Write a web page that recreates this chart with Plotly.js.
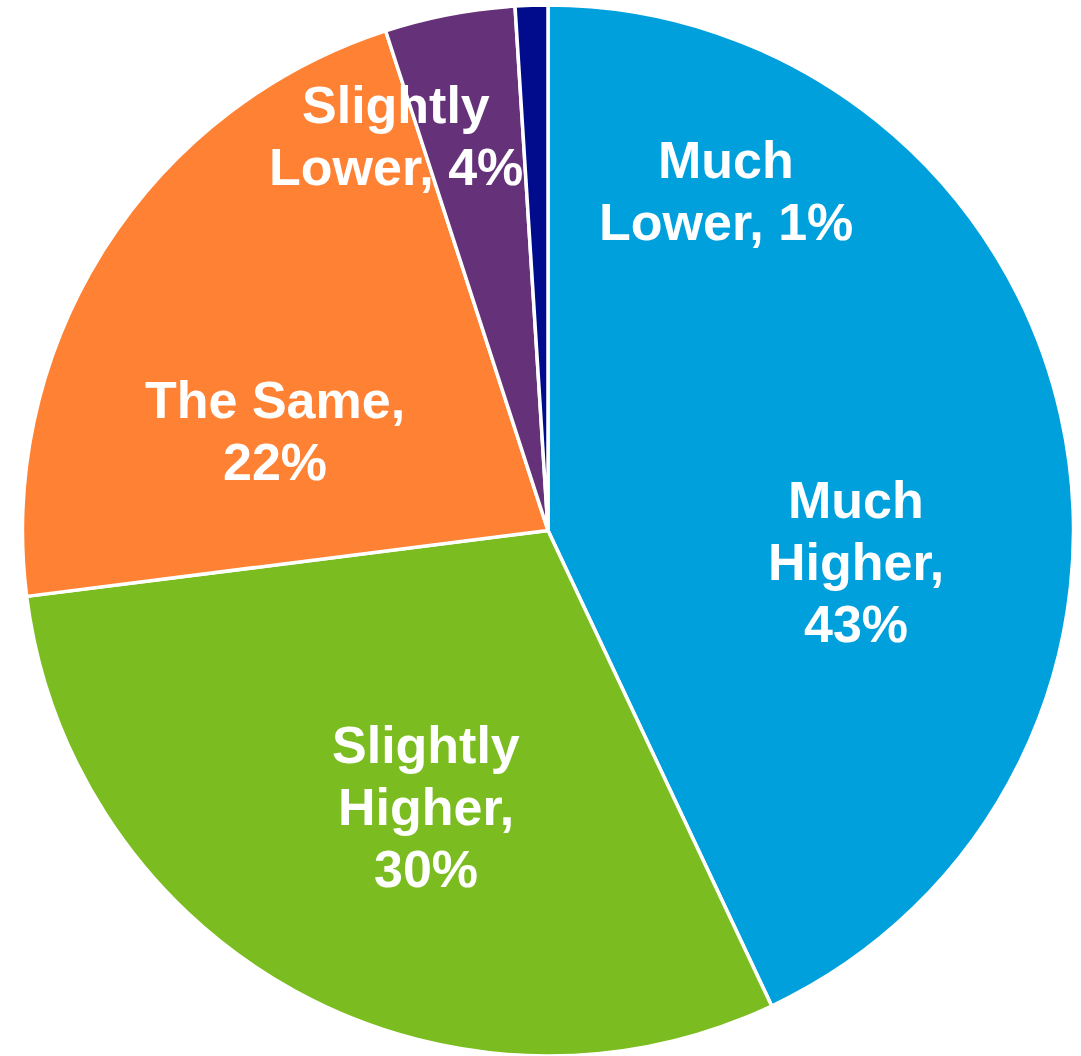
<!DOCTYPE html>
<html>
<head>
<meta charset="utf-8">
<script src="https://cdn.plot.ly/plotly-3.0.1.min.js"></script>
<style>html,body{margin:0;padding:0;background:#fff;}#chart{width:1081px;height:1056px;}</style>
</head>
<body>
<div id="chart"></div>
<script>
const categories = ["Much Higher", "Slightly Higher", "The Same", "Slightly Lower", "Much Lower"];
const values = [43, 30, 22, 4, 1];
const colors = ["#00A0DC", "#7BBD20", "#FF8133", "#653279", "#000C8C"];

// label line breaks (text built from categories/values)
const labelLines = categories.map((c, i) => {
  if (c === "Much Higher") return ["Much", "Higher,", values[i] + "%"];
  if (c === "Slightly Higher") return ["Slightly", "Higher,", values[i] + "%"];
  if (c === "The Same") return ["The Same,", values[i] + "%"];
  if (c === "Slightly Lower") return ["Slightly", "Lower, " + values[i] + "%"];
  return ["Much", "Lower, " + values[i] + "%"];
});

// label placement (pixel centers of first line, line step)
const W = 1081, H = 1056;
const labelPos = [
  {x: 856, y: 500},
  {x: 426, y: 745},
  {x: 275, y: 400},
  {x: 396, y: 105},
  {x: 726, y: 160}
];
const lineStep = 62;

const annotations = [];
labelLines.forEach((lines, i) => {
  lines.forEach((t, j) => {
    annotations.push({
      text: t,
      xref: "paper", yref: "paper",
      x: labelPos[i].x / W,
      y: 1 - (labelPos[i].y + j * lineStep) / H,
      xanchor: "center", yanchor: "middle",
      showarrow: false,
      font: {family: "Liberation Sans, Arial, sans-serif", size: 52, color: "#FFFFFF", weight: "bold"}
    });
  });
});

const data = [{
  type: "pie",
  labels: categories,
  values: values,
  sort: false,
  direction: "clockwise",
  rotation: 0,
  marker: {colors: colors, line: {color: "#FFFFFF", width: 3.5}},
  textinfo: "none",
  hoverinfo: "label+percent",
  domain: {x: [22 / W, 1074 / W], y: [0, 1051 / H]}
}];

const layout = {
  width: W, height: H,
  margin: {l: 0, r: 0, t: 0, b: 0},
  showlegend: false,
  paper_bgcolor: "#FFFFFF",
  annotations: annotations
};

Plotly.newPlot("chart", data, layout, {displayModeBar: false, staticPlot: true});
</script>
</body>
</html>
